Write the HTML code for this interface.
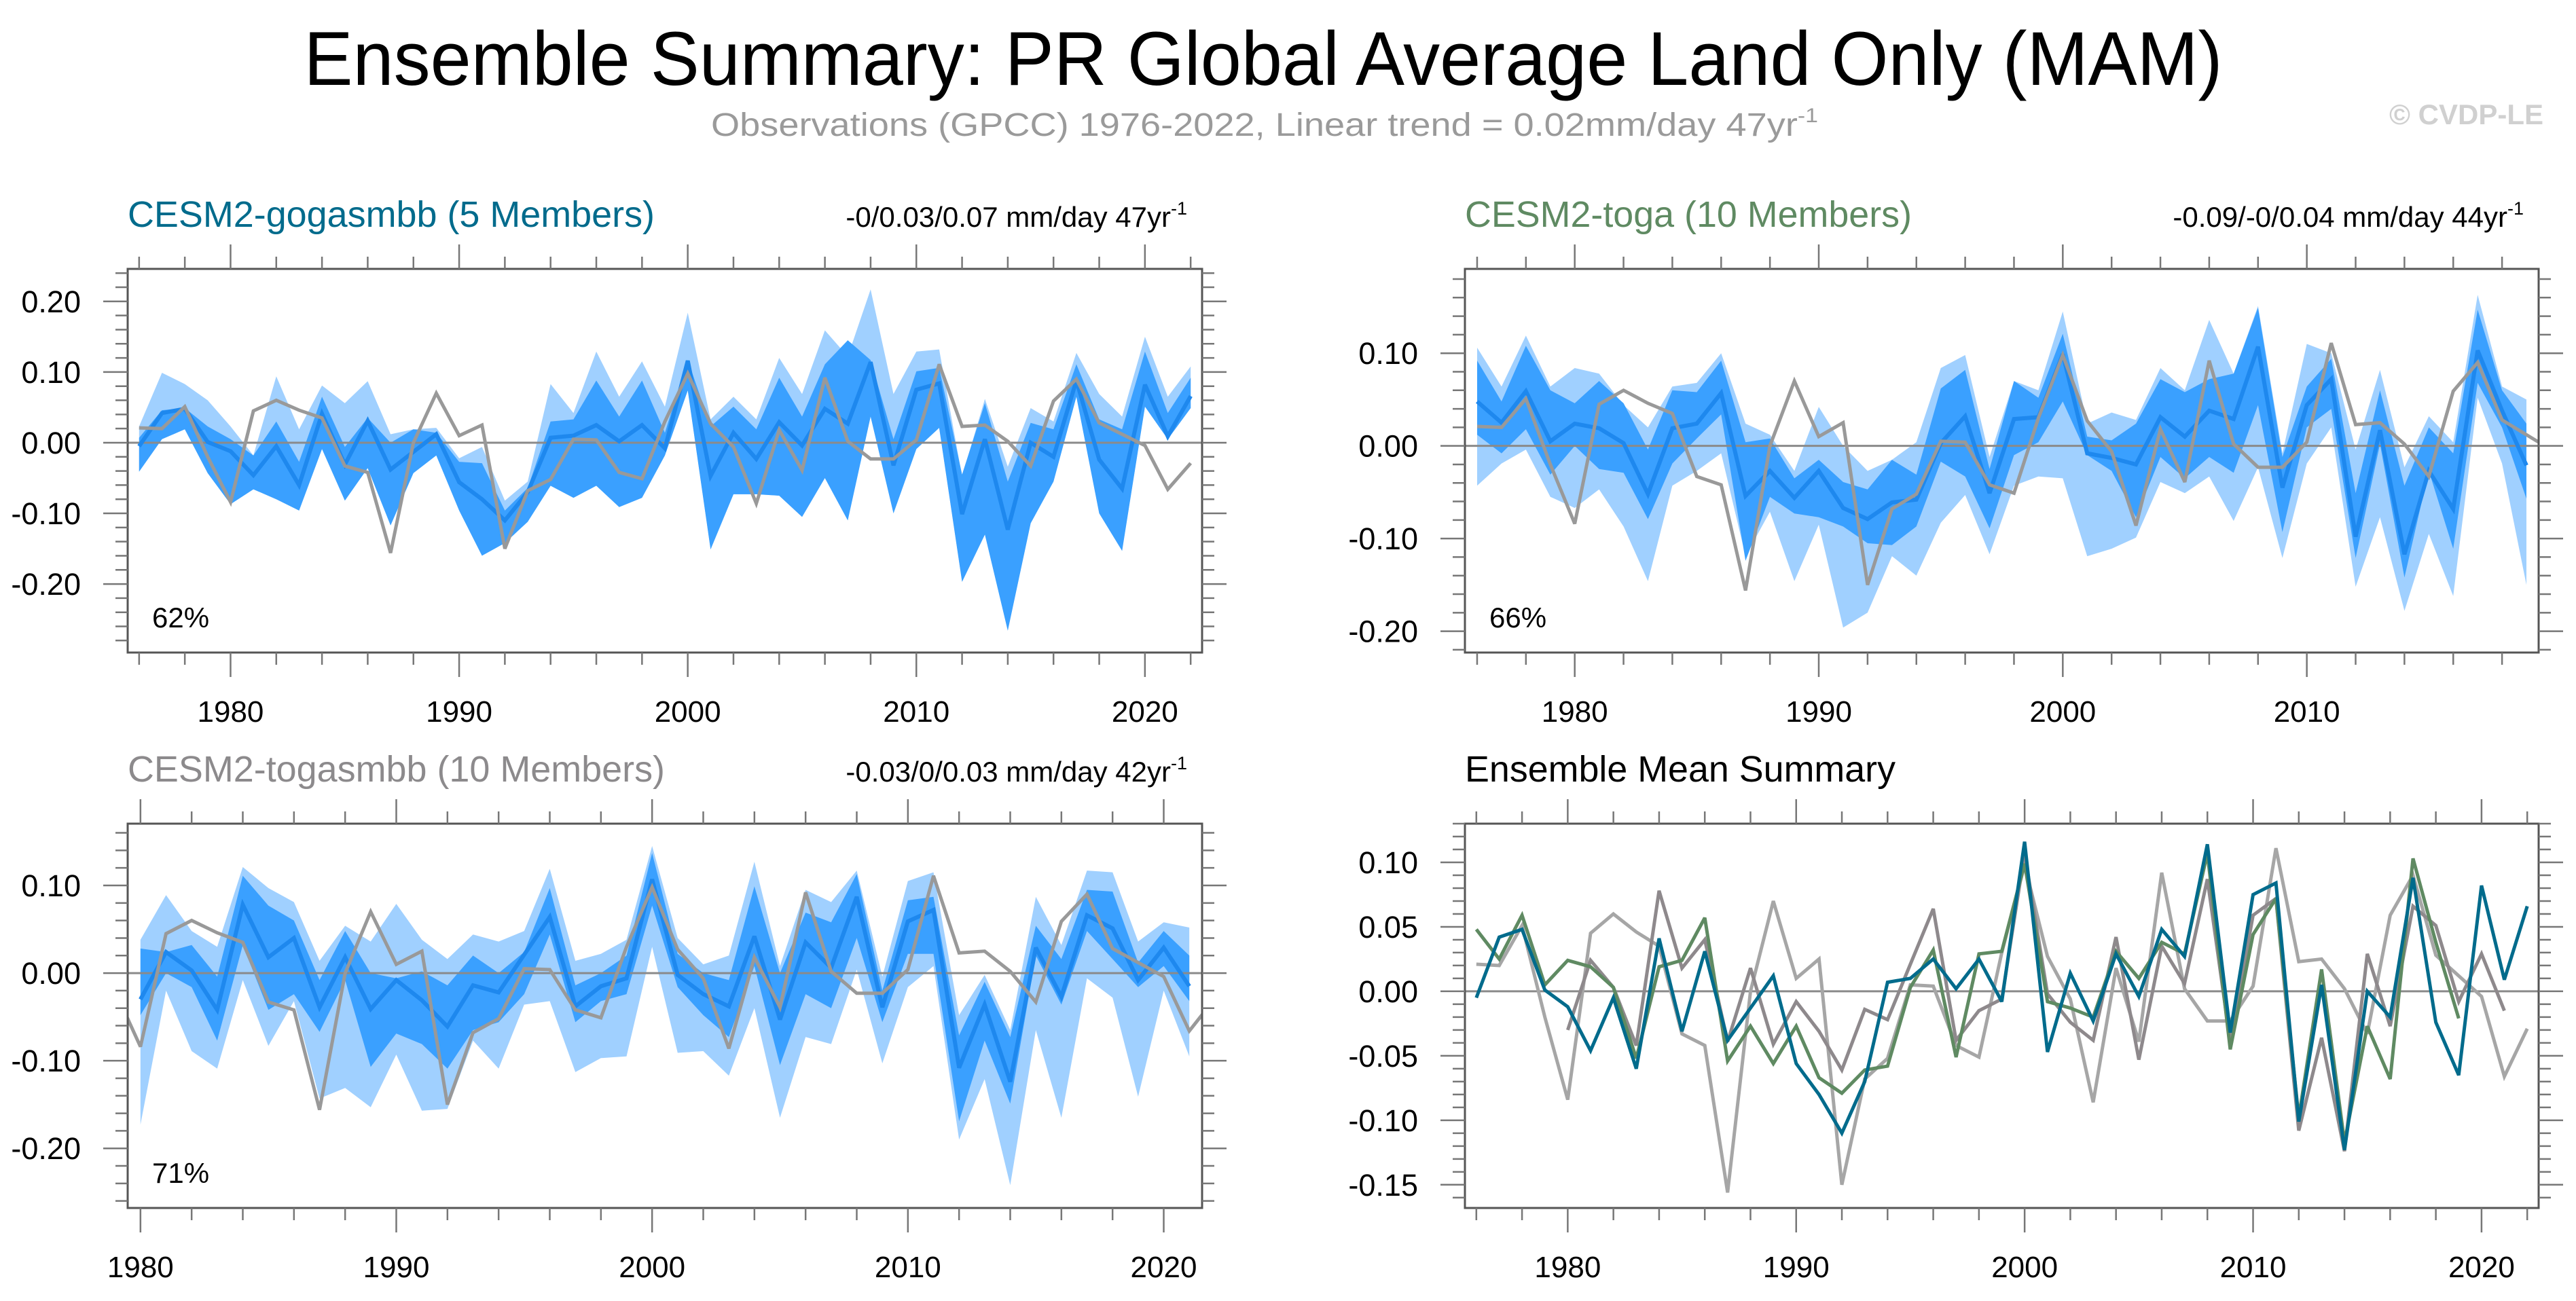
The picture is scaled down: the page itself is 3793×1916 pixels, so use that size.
<!DOCTYPE html>
<html><head><meta charset="utf-8"><style>
html,body{margin:0;padding:0;background:#fff;}
svg{display:block;font-family:"Liberation Sans",Arial,sans-serif;}
</style></head><body>
<svg id="chart" xmlns="http://www.w3.org/2000/svg" width="3793" height="1916" viewBox="0 0 3793 1916">
<rect width="3793" height="1916" fill="#fff"/>
<text x="1860" y="125" font-size="112" text-anchor="middle" fill="#000" textLength="2825" lengthAdjust="spacingAndGlyphs">Ensemble Summary: PR Global Average Land Only (MAM)</text>
<text x="1862" y="200" font-size="48" text-anchor="middle" fill="#9a9a9a" textLength="1630" lengthAdjust="spacingAndGlyphs">Observations (GPCC) 1976-2022, Linear trend = 0.02mm/day 47yr<tspan font-size="30" dy="-20">-1</tspan></text>
<text x="3745" y="183" font-size="42" font-weight="bold" text-anchor="end" fill="#d0d0d0">© CVDP-LE</text>
<g id="panels"></g>
</svg>
<script>
// ---------------- data ----------------
const obsYears = [1976,1977,1978,1979,1980,1981,1982,1983,1984,1985,1986,1987,1988,1989,1990,1991,1992,1993,1994,1995,1996,1997,1998,1999,2000,2001,2002,2003,2004,2005,2006,2007,2008,2009,2010,2011,2012,2013,2014,2015,2016,2017,2018,2019,2020,2021,2022];
const obsValues = [0.021,0.020,0.051,-0.02,-0.084,0.045,0.060,0.046,0.035,-0.033,-0.042,-0.156,0.0,0.070,0.010,0.025,-0.150,-0.068,-0.052,0.005,0.004,-0.042,-0.051,0.030,0.098,0.027,-0.006,-0.086,0.018,-0.039,0.092,0.002,-0.023,-0.023,0.004,0.111,0.023,0.025,0.002,-0.033,0.059,0.090,0.028,0.012,-0.004,-0.066,-0.029];

const gogaYears = obsYears;
const gogaMean = [-0.005,0.042,0.048,0.001,-0.012,-0.046,-0.005,-0.060,0.041,-0.031,0.031,-0.038,-0.013,0.012,-0.056,-0.080,-0.110,-0.070,0.007,0.010,0.025,0.002,0.025,-0.008,0.116,-0.047,0.014,-0.023,0.029,-0.004,0.048,0.027,0.114,-0.032,0.075,0.084,-0.101,0.005,-0.123,0.0,-0.020,0.088,-0.024,-0.065,0.082,0.009,0.066];
const gogaLightHi = [0.023,0.099,0.083,0.060,0.023,-0.018,0.094,0.019,0.081,0.056,0.087,0.012,0.019,0.021,-0.022,-0.006,-0.082,-0.055,0.083,0.042,0.129,0.065,0.115,0.051,0.184,0.033,0.065,0.033,0.120,0.069,0.159,0.122,0.217,0.069,0.129,0.132,-0.048,0.062,-0.034,0.049,0.030,0.127,0.069,0.037,0.150,0.065,0.108];
const gogaDarkHi = [0.007,0.046,0.049,0.023,0.005,-0.018,0.030,-0.027,0.065,-0.006,0.035,0.0,0.019,0.014,-0.027,-0.029,-0.096,-0.064,0.030,0.033,0.088,0.037,0.088,0.014,0.117,0.023,0.051,0.019,0.092,0.037,0.111,0.145,0.117,0.005,0.101,0.106,-0.045,0.056,-0.055,0.028,0.019,0.111,0.033,0.019,0.129,0.042,0.092];
const gogaDarkLo = [-0.041,0.005,0.019,-0.043,-0.087,-0.066,-0.080,-0.096,-0.009,-0.082,-0.036,-0.117,-0.043,-0.018,-0.096,-0.160,-0.142,-0.112,-0.061,-0.078,-0.061,-0.091,-0.078,-0.018,0.074,-0.151,-0.073,-0.073,-0.075,-0.105,-0.050,-0.110,0.037,-0.100,-0.009,0.021,-0.197,-0.130,-0.266,-0.114,-0.055,0.065,-0.100,-0.153,0.051,0.005,0.049];
const gogaLightLo = gogaDarkLo;

const togaYears = obsYears.slice(0,44);
const togaMean = [0.048,0.025,0.059,0.005,0.024,0.019,0.003,-0.052,0.019,0.024,0.057,-0.054,-0.027,-0.056,-0.027,-0.067,-0.079,-0.061,-0.058,0.003,0.032,-0.051,0.029,0.031,0.099,-0.008,-0.013,-0.020,0.031,0.010,0.038,0.029,0.107,-0.045,0.044,0.072,-0.098,0.017,-0.117,-0.027,-0.068,0.103,0.038,-0.021];
const togaLightHi = [0.106,0.064,0.119,0.064,0.084,0.078,0.044,0.020,0.064,0.068,0.100,0.024,0.012,-0.027,0.042,0.0,-0.027,-0.015,0.004,0.084,0.098,-0.012,0.070,0.060,0.145,0.024,0.036,0.028,0.084,0.060,0.136,0.078,0.151,-0.008,0.110,0.100,-0.004,0.082,-0.023,0.032,0.004,0.163,0.064,0.050];
const togaDarkHi = [0.092,0.048,0.108,0.060,0.046,0.070,0.046,-0.004,0.060,0.058,0.092,0.004,0.008,-0.035,-0.015,-0.039,-0.047,-0.015,-0.031,0.062,0.082,-0.025,0.070,0.052,0.121,0.010,0.006,0.024,0.072,0.058,0.072,0.078,0.149,-0.012,0.064,0.094,-0.051,0.060,-0.043,0.020,-0.008,0.147,0.060,0.024];
const togaDarkLo = [0.012,-0.008,0.018,-0.031,0.0,-0.025,-0.029,-0.079,-0.019,0.008,0.034,-0.124,-0.055,-0.073,-0.077,-0.087,-0.105,-0.107,-0.087,-0.017,-0.033,-0.089,-0.010,0.004,0.048,-0.010,-0.027,-0.077,-0.012,-0.035,-0.012,-0.029,0.044,-0.093,0.020,0.040,-0.121,0.002,-0.142,-0.027,-0.111,0.068,0.020,-0.057];
const togaLightLo = [-0.043,-0.019,-0.004,-0.055,-0.067,-0.047,-0.087,-0.146,-0.043,-0.027,-0.008,-0.119,-0.071,-0.146,-0.085,-0.196,-0.180,-0.119,-0.140,-0.083,-0.053,-0.117,-0.043,-0.033,-0.035,-0.119,-0.111,-0.099,-0.039,-0.051,-0.033,-0.081,-0.023,-0.121,-0.019,0.020,-0.152,-0.077,-0.178,-0.095,-0.162,0.052,-0.019,-0.150];

const togsYears = obsYears.slice(4,46);
const togsMean = [-0.030,0.024,0.003,-0.042,0.078,0.018,0.040,-0.039,0.018,-0.041,-0.008,-0.031,-0.061,-0.014,-0.022,0.021,0.064,-0.038,-0.015,-0.006,0.107,-0.002,-0.024,-0.038,0.042,-0.053,0.035,0.006,0.087,-0.039,0.059,0.072,-0.108,-0.036,-0.124,0.029,-0.027,0.066,0.051,-0.008,0.029,-0.015];
const togsLightHi = [0.038,0.089,0.048,0.030,0.121,0.097,0.081,0.014,0.054,0.036,0.079,0.038,0.016,0.044,0.036,0.048,0.119,0.014,0.022,0.038,0.145,0.040,0.010,0.020,0.127,0.008,0.095,0.081,0.117,-0.004,0.105,0.115,-0.048,-0.002,-0.065,0.087,0.032,0.117,0.115,0.036,0.058,0.052];
const togsDarkHi = [0.028,0.024,0.032,-0.004,0.111,0.077,0.060,-0.008,0.048,0.0,-0.006,0.002,-0.014,0.020,0.0,0.024,0.097,-0.014,0.0,0.020,0.137,0.022,0.0,-0.008,0.099,0.0,0.069,0.058,0.113,-0.020,0.083,0.087,-0.071,-0.010,-0.073,0.054,0.016,0.095,0.093,0.012,0.048,0.020];
const togsDarkLo = [-0.048,0.0,-0.016,-0.077,0.032,-0.042,-0.024,-0.067,-0.008,-0.107,-0.069,-0.081,-0.109,-0.065,-0.056,-0.024,0.044,-0.056,-0.032,-0.024,0.077,-0.016,-0.048,-0.073,0.008,-0.105,-0.024,-0.040,0.040,-0.056,0.022,0.022,-0.169,-0.077,-0.149,0.020,-0.036,0.048,0.016,-0.016,0.008,-0.032];
const togsLightLo = [-0.173,-0.020,-0.089,-0.109,-0.008,-0.083,-0.032,-0.143,-0.131,-0.153,-0.093,-0.157,-0.155,-0.077,-0.109,-0.036,-0.032,-0.113,-0.097,-0.095,0.030,-0.091,-0.089,-0.117,-0.040,-0.165,-0.073,-0.081,0.004,-0.103,-0.016,0.008,-0.190,-0.121,-0.242,-0.065,-0.165,-0.006,-0.028,-0.141,-0.020,-0.095];

const ticksA = ["0.20","0.10","0.00","-0.10","-0.20"];
const ticksB = ["0.10","0.05","0.00","-0.05","-0.10","-0.15"];
const yearTicks = [1980,1990,2000,2010,2020];

// ---------------- drawing ----------------
const NS = "http://www.w3.org/2000/svg";
const root = document.getElementById('panels');
function mk(tag, attrs, parent){
  const e = document.createElementNS(NS, tag);
  for (const k in attrs) e.setAttribute(k, attrs[k]);
  (parent||root).appendChild(e);
  return e;
}
function pts(xs, ys, sx, sy){ return xs.map((x,i)=>sx(x).toFixed(1)+','+sy(ys[i]).toFixed(1)).join(' '); }

function panel(p){
  const g = mk('g', {});
  
  
  const sx = v => p.L + (v - p.x0) / (p.x1 - p.x0) * (p.R - p.L);
  const sy = v => p.T + (p.y1 - v) / (p.y1 - p.y0) * (p.B - p.T);
  const cid = 'clip-' + p.name;
  const cp = mk('clipPath', {id: cid}, g);
  mk('rect', {x:p.L, y:p.T, width:p.R-p.L, height:p.B-p.T}, cp);
  const plot = mk('g', {'clip-path':'url(#'+cid+')'}, g);
  
  
  if (p.bands){
    p.bands.forEach(b=>{
      const up = pts(p.years, b.hi, sx, sy);
      const lo = pts(p.years.slice().reverse(), b.lo.slice().reverse(), sx, sy);
      const poly = mk('polygon', {points: up+' '+lo, fill:b.color}, plot);
      
      
    });
  }
  const z = mk('line', {x1:p.L, x2:p.R, y1:sy(0), y2:sy(0), stroke:'#8a8a8a', 'stroke-width':3}, plot);
  
  
  p.lines.forEach(l=>{
    const pl = mk('polyline', {points: pts(l.years, l.vals, sx, sy), fill:'none', stroke:l.color, 'stroke-width':l.w, 'stroke-linejoin':'miter', 'stroke-miterlimit':3}, plot);
    
    
  });
  const box = mk('rect', {x:p.L, y:p.T, width:p.R-p.L, height:p.B-p.T, fill:'none', stroke:'#555', 'stroke-width':3}, g);
  
  
  const xt = mk('g', {stroke:'#777', 'stroke-width':2.5}, g);
  
  
  for (let yr = Math.ceil(p.x0/2)*2; yr <= p.x1; yr += 2){
    const len = yr % 10 === 0 ? 36 : 18;
    const x = sx(yr);
    mk('line', {x1:x, x2:x, y1:p.T, y2:p.T-len}, xt);
    mk('line', {x1:x, x2:x, y1:p.B, y2:p.B+len}, xt);
  }
  yearTicks.forEach(yr=>{
    if (yr < p.x0 || yr > p.x1) return;
    const t = mk('text', {x:sx(yr), y:p.B+102, 'font-size':44, 'text-anchor':'middle', fill:'#000'}, g);
    
    
    t.textContent = String(yr);
  });
  const yt = mk('g', {stroke:'#777', 'stroke-width':2.5}, g);
  
  
  const start = Math.ceil(p.y0/p.minor - 1e-6);
  for (let k = start; k*p.minor <= p.y1 + 1e-9; k++){
    const v = k*p.minor;
    const isMaj = Math.abs(v/p.major - Math.round(v/p.major)) < 1e-6;
    const len = isMaj ? 36 : 18;
    const y = sy(v);
    mk('line', {x1:p.L, x2:p.L-len, y1:y, y2:y}, yt);
    mk('line', {x1:p.R, x2:p.R+len, y1:y, y2:y}, yt);
  }
  p.ticks.forEach(s=>{
    const v = parseFloat(s);
    const t = mk('text', {x:p.L-69, y:sy(v)+16, 'font-size':45, 'text-anchor':'end', fill:'#000'}, g);
    
    
    t.textContent = s;
  });
  const tt = mk('text', {x:p.L, y:p.T-62, 'font-size':54, fill:p.titleColor, textLength:p.titleW, lengthAdjust:'spacingAndGlyphs'}, g);
  
  
  tt.textContent = p.title;
  if (p.trend){
    const tr = mk('text', {x:p.trendX, y:p.T-62, 'font-size':42, 'text-anchor':'end', fill:'#000'}, g);
    
    
    tr.textContent = p.trend;
    const sup = mk('tspan', {'font-size':27, dy:-18}, tr);
    sup.textContent = '-1';
  }
  if (p.pct){
    const pc = mk('text', {x:p.L+36, y:p.B-37, 'font-size':42, fill:'#000'}, g);
    
    
    pc.textContent = p.pct;
  }
}

const LIGHT = '#a0d0ff', DARK = '#3aa0ff', MEAN = '#1e88ee', OBS = '#999999';

panel({name:'panel-cesm2-gogasmbb', L:188, R:1770, T:396, B:961, x0:1975.5, x1:2022.5, y0:-0.297, y1:0.246, major:0.1, minor:0.02, ticks:ticksA,
  years:gogaYears, title:'CESM2-gogasmbb (5 Members)', titleColor:'#006b8c', titleW:776, trend:'-0/0.03/0.07 mm/day 47yr', trendX:1748, pct:'62%',
  bands:[{name:'spread-band-full', hi:gogaLightHi, lo:gogaLightLo, color:LIGHT},{name:'spread-band-inner', hi:gogaDarkHi, lo:gogaDarkLo, color:DARK}],
  lines:[{name:'ensemble-mean-line', years:gogaYears, vals:gogaMean, color:MEAN, w:6},{name:'observations-line', years:obsYears, vals:obsValues, color:OBS, w:5}]});

panel({name:'panel-cesm2-toga', L:2157, R:3738, T:396, B:961, x0:1975.5, x1:2019.5, y0:-0.223, y1:0.191, major:0.1, minor:0.02, ticks:ticksA.slice(1),
  years:togaYears, title:'CESM2-toga (10 Members)', titleColor:'#5f8a62', titleW:658, trend:'-0.09/-0/0.04 mm/day 44yr', trendX:3716, pct:'66%',
  bands:[{name:'spread-band-full', hi:togaLightHi, lo:togaLightLo, color:LIGHT},{name:'spread-band-inner', hi:togaDarkHi, lo:togaDarkLo, color:DARK}],
  lines:[{name:'ensemble-mean-line', years:togaYears, vals:togaMean, color:MEAN, w:6},{name:'observations-line', years:obsYears, vals:obsValues, color:OBS, w:5}]});

panel({name:'panel-cesm2-togasmbb', L:188, R:1770, T:1213, B:1779, x0:1979.5, x1:2021.5, y0:-0.268, y1:0.1705, major:0.1, minor:0.02, ticks:ticksA.slice(1),
  years:togsYears, title:'CESM2-togasmbb (10 Members)', titleColor:'#8c8a8c', titleW:791, trend:'-0.03/0/0.03 mm/day 42yr', trendX:1748, pct:'71%',
  bands:[{name:'spread-band-full', hi:togsLightHi, lo:togsLightLo, color:LIGHT},{name:'spread-band-inner', hi:togsDarkHi, lo:togsDarkLo, color:DARK}],
  lines:[{name:'ensemble-mean-line', years:togsYears, vals:togsMean, color:MEAN, w:6},{name:'observations-line', years:obsYears, vals:obsValues, color:OBS, w:5}]});

panel({name:'panel-ensemble-mean-summary', L:2157, R:3738, T:1213, B:1779, x0:1975.5, x1:2022.5, y0:-0.168, y1:0.13, major:0.05, minor:0.01, ticks:ticksB,
  title:'Ensemble Mean Summary', titleColor:'#000', titleW:634,
  lines:[{name:'observations-line', years:obsYears, vals:obsValues, color:'#a6a6a6', w:5},
         {name:'togasmbb-mean-line', years:togsYears, vals:togsMean, color:'#8e898c', w:5},
         {name:'toga-mean-line', years:togaYears, vals:togaMean, color:'#5f8a62', w:5},
         {name:'gogasmbb-mean-line', years:gogaYears, vals:gogaMean, color:'#006b8c', w:5}]});
</script>
</body></html>
